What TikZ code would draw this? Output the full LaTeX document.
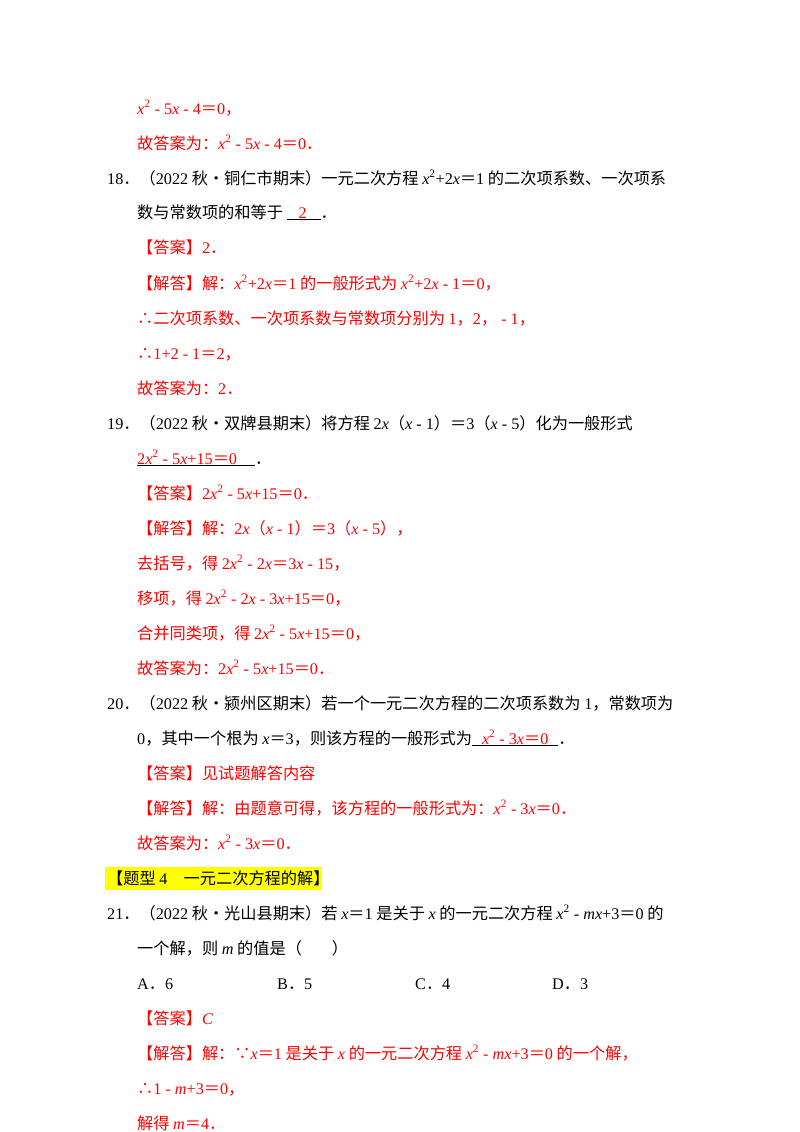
\documentclass[tikz,border=0pt]{standalone}
\usepackage{fontspec}
\setmainfont{Noto Sans CJK SC}
\newfontfamily\lt{Liberation Serif}
\newcommand{\mi}[1]{{\lt\itshape #1}}
\newcommand{\n}[1]{{\lt #1}}
\definecolor{ansred}{RGB}{255,0,0}
\definecolor{hl}{RGB}{255,255,0}
\begin{document}
\begin{tikzpicture}[x=1pt,y=-1pt,
  t/.style={anchor=base west,inner sep=0pt,font=\fontsize{16.2}{19}\selectfont},
  r/.style={t,text=ansred}]
\useasboundingbox[fill=white] (0,0) rectangle (800,1132);
\node[r] (l1) at (137,114) {\mi{x}\n{\textsuperscript{2} - 5}\mi{x}\n{ - 4}＝\n{0}，};
\node[r] (l2) at (137,149) {故答案为：\mi{x}\n{\textsuperscript{2} - 5}\mi{x}\n{ - 4}＝\n{0}．};
\node[t] (l3) at (107,184) {\n{18}．（\n{2022} 秋•铜仁市期末）一元二次方程 \mi{x}\n{\textsuperscript{2}+2}\mi{x}＝\n{1} 的二次项系数、一次项系};
\node[t] (l4) at (137,218) {数与常数项的和等于 \underline{\hspace{12pt}\textcolor{ansred}{\n{2}}\hspace{14pt}}．};
\node[r] (l5) at (137,253) {【答案】\n{2}．};
\node[r] (l6) at (137,289) {【解答】解：\mi{x}\n{\textsuperscript{2}+2}\mi{x}＝\n{1} 的一般形式为 \mi{x}\n{\textsuperscript{2}+2}\mi{x}\n{ - 1}＝\n{0}，};
\node[r] (l7) at (137,324) {∴二次项系数、一次项系数与常数项分别为 \n{1}，\n{2}，\n{ - 1}，};
\node[r] (l8) at (137,359) {∴\n{1+2 - 1}＝\n{2}，};
\node[r] (l9) at (137,394) {故答案为：\n{2}．};
\node[t] (l10) at (107,429) {\n{19}．（\n{2022} 秋•双牌县期末）将方程 \n{2}\mi{x}（\mi{x}\n{ - 1}）＝\n{3}（\mi{x}\n{ - 5}）化为一般形式};
\node[t] (l11) at (137,464) {\underline{\textcolor{ansred}{\n{2}\mi{x}\n{\textsuperscript{2} - 5}\mi{x}\n{+15}＝\n{0}}\hspace{18pt}}．};
\node[r] (l12) at (137,499) {【答案】\n{2}\mi{x}\n{\textsuperscript{2} - 5}\mi{x}\n{+15}＝\n{0}．};
\node[r] (l13) at (137,534) {【解答】解：\n{2}\mi{x}（\mi{x}\n{ - 1}）＝\n{3}（\mi{x}\n{ - 5}），};
\node[r] (l14) at (137,569) {去括号，得 \n{2}\mi{x}\n{\textsuperscript{2} - 2}\mi{x}＝\n{3}\mi{x}\n{ - 15}，};
\node[r] (l15) at (137,604) {移项，得 \n{2}\mi{x}\n{\textsuperscript{2} - 2}\mi{x}\n{ - 3}\mi{x}\n{+15}＝\n{0}，};
\node[r] (l16) at (137,639) {合并同类项，得 \n{2}\mi{x}\n{\textsuperscript{2} - 5}\mi{x}\n{+15}＝\n{0}，};
\node[r] (l17) at (137,674) {故答案为：\n{2}\mi{x}\n{\textsuperscript{2} - 5}\mi{x}\n{+15}＝\n{0}．};
\node[t] (l18) at (107,709) {\n{20}．（\n{2022} 秋•颍州区期末）若一个一元二次方程的二次项系数为 \n{1}，常数项为};
\node[t] (l19) at (137,744) {\n{0}，其中一个根为 \mi{x}＝\n{3}，则该方程的一般形式为\underline{\hspace{10pt}\textcolor{ansred}{\mi{x}\n{\textsuperscript{2} - 3}\mi{x}＝\n{0}}\hspace{10pt}}．};
\node[r] (l20) at (137,779) {【答案】见试题解答内容};
\node[r] (l21) at (137,814) {【解答】解：由题意可得，该方程的一般形式为：\mi{x}\n{\textsuperscript{2} - 3}\mi{x}＝\n{0}．};
\node[r] (l22) at (137,849) {故答案为：\mi{x}\n{\textsuperscript{2} - 3}\mi{x}＝\n{0}．};
\fill[hl] (105,867) rectangle (322,890);
\node[t] (l23) at (107,884) {【题型 \n{4}\quad 一元二次方程的解】};
\node[t] (l24) at (107,919) {\n{21}．（\n{2022} 秋•光山县期末）若 \mi{x}＝\n{1} 是关于 \mi{x} 的一元二次方程 \mi{x}\n{\textsuperscript{2} - }\mi{mx}\n{+3}＝\n{0} 的};
\node[t] (l25) at (137,954) {一个解，则 \mi{m} 的值是（\hspace{30pt}）};
\node[t] (a) at (137,989) {\n{A}．\n{6}};
\node[t] (b) at (277,989) {\n{B}．\n{5}};
\node[t] (c) at (415,989) {\n{C}．\n{4}};
\node[t] (d) at (552,989) {\n{D}．\n{3}};
\node[r] (l27) at (137,1024) {【答案】\mi{C}};
\node[r] (l28) at (137,1059) {【解答】解：∵\mi{x}＝\n{1} 是关于 \mi{x} 的一元二次方程 \mi{x}\n{\textsuperscript{2} - }\mi{mx}\n{+3}＝\n{0} 的一个解，};
\node[r] (l29) at (137,1094) {∴\n{1 - }\mi{m}\n{+3}＝\n{0}，};
\node[r] (l30) at (137,1129) {解得 \mi{m}＝\n{4}．};
\end{tikzpicture}
\end{document}
